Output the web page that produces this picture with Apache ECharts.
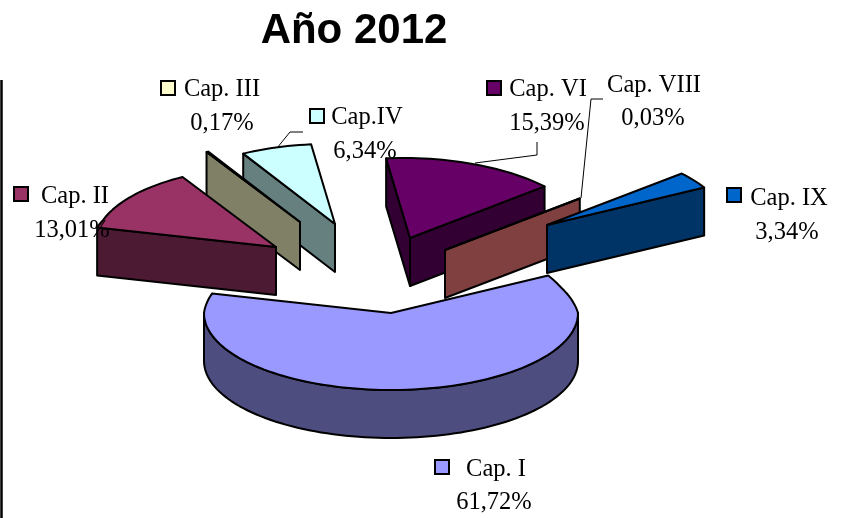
<!DOCTYPE html>
<html>
<head>
<meta charset="utf-8">
<style>
  html, body { margin: 0; padding: 0; background: #fff; }
  #chart { width: 848px; height: 518px; }
</style>
<script src="https://cdn.jsdelivr.net/npm/echarts@6/dist/echarts.min.js"></script>
</head>
<body>
<div id="chart"></div>
<script>
const titleText = 'Año 2012';
const capNames = ['Cap. I', 'Cap. II', 'Cap. III', 'Cap.IV', 'Cap. VI', 'Cap. VIII', 'Cap. IX'];
const capValues = [61.72, 13.01, 0.17, 6.34, 15.39, 0.03, 3.34];

// painter's order, back slices first
const drawOrder = [3, 2, 1, 4, 5, 6, 0];

const topColors = ['#9999ff', '#993366', '#ffffcc', '#ccffff', '#660066', '#ff8080', '#0066cc'];
const wallColors = ['#4d4d80', '#4d1a33', '#808066', '#668080', '#330033', '#804040', '#003366'];

// pie geometry
const startAngle = 62;
const rx = 187, ryBack = 80, ryFront = 77, depth = 48;
const skew = -0.08; // the original's perspective leans the far side to the left
const backShrink = 0.03; // and makes it a little narrower
const cx = 380, cy = 275;
// how far each slice is pulled out of the pie
const pull = [[11, 38], [-104, -28], [-80, -53], [-45, -51], [30, -37], [65, -25], [167, -50]];

// label layout: x centre of text, y of first and second line, legend key x/y
const labelLayout = [
    { nameX: 496, nameY: 470, valX: 494, valY: 503, key: [435, 460] },
    { nameX: 75, nameY: 197, valX: 72, valY: 231, key: [14, 187] },
    { nameX: 222, nameY: 90, valX: 222, valY: 124, key: [161, 81] },
    { nameX: 367, nameY: 118, valX: 365, valY: 152, key: [310, 109] },
    { nameX: 548, nameY: 90, valX: 547, valY: 124, key: [487, 81] },
    { nameX: 654, nameY: 86, valX: 653, valY: 119, key: null },
    { nameX: 789, nameY: 199, valX: 787, valY: 233, key: [727, 188] }
];

const total = capValues.reduce((a, b) => a + b, 0);
let acc = startAngle;
const sliceAngles = capValues.map(v => {
    const a = acc;
    acc += v / total * 360;
    return [a, acc];
});

function rim(ox, oy, deg) {
    const t = deg * Math.PI / 180;
    const c = Math.cos(t);
    if (c > 0) {
        const h = c * ryBack;
        return [ox + rx * (1 - backShrink * Math.min(1, c * 3)) * Math.sin(t) + skew * h, oy - h];
    }
    return [ox + rx * Math.sin(t), oy - c * ryFront];
}

function arcPoints(ox, oy, a, b) {
    const pts = [];
    const n = Math.max(1, Math.ceil((b - a) / 2));
    for (let i = 0; i <= n; i++) {
        pts.push(rim(ox, oy, a + (b - a) * i / n));
    }
    return pts;
}

function poly(points, fill) {
    return {
        type: 'polygon',
        shape: { points: points },
        style: { fill: fill, stroke: '#000', lineWidth: 2, lineJoin: 'round' }
    };
}

function renderSlice(params, api) {
    const idx = api.value(0);
    const a = sliceAngles[idx][0], b = sliceAngles[idx][1];
    const ox = cx + pull[idx][0], oy = cy + pull[idx][1];
    const children = [];

    const wall = (deg) => {
        const p = rim(ox, oy, deg);
        children.push(poly([[ox, oy], p, [p[0], p[1] + depth], [ox, oy + depth]], wallColors[idx]));
    };
    // side walls only where they face the viewer
    if (Math.sin(a * Math.PI / 180) < 0) wall(a);
    if (Math.sin(b * Math.PI / 180) > 0) wall(b);

    // front rim, only the part between 90 and 270 degrees
    const fa = Math.max(a, 90), fb = Math.min(b, 270);
    if (fb > fa) {
        const front = arcPoints(ox, oy, fa, fb);
        const lower = front.map(p => [p[0], p[1] + depth]).reverse();
        children.push(poly(front.concat(lower), wallColors[idx]));
    }

    children.push(poly([[ox, oy]].concat(arcPoints(ox, oy, a, b)), topColors[idx]));
    return { type: 'group', children: children };
}

const serif = '"Liberation Serif", "Times New Roman", serif';

function textEl(text, x, y) {
    return {
        type: 'text',
        z: 10,
        x: x,
        y: y,
        style: { text: text, font: '24.5px ' + serif, fill: '#000', align: 'center', verticalAlign: 'middle' }
    };
}

function leader(points) {
    return {
        type: 'polyline',
        z: 9,
        shape: { points: points },
        style: { stroke: '#000', lineWidth: 1, fill: null }
    };
}

const graphics = [
    {
        type: 'text',
        x: 354,
        y: 31,
        style: { text: titleText, font: 'bold 42px "Liberation Sans", Arial, sans-serif', fill: '#000', align: 'center', verticalAlign: 'middle' }
    },
    { type: 'line', shape: { x1: 1.5, y1: 80, x2: 1.5, y2: 518 }, style: { stroke: '#000', lineWidth: 2.5 } },
    leader([[277, 148], [290, 132], [303, 132]]),
    leader([[475, 163], [537, 155], [537, 142]]),
    leader([[581, 198], [591, 99], [603, 99]])
];

capNames.forEach((name, i) => {
    const l = labelLayout[i];
    graphics.push(textEl(name, l.nameX, l.nameY));
    graphics.push(textEl(capValues[i].toFixed(2).replace('.', ',') + '%', l.valX, l.valY));
    if (l.key) {
        graphics.push({
            type: 'rect',
            z: 10,
            shape: { x: l.key[0], y: l.key[1], width: 14, height: 14 },
            style: { fill: topColors[i], stroke: '#000', lineWidth: 2 }
        });
    }
});

const chart = echarts.init(document.querySelector('#chart'));
chart.setOption({
    animation: false,
    backgroundColor: '#fff',
    graphic: { elements: graphics },
    series: [{
        type: 'custom',
        coordinateSystem: 'none',
        renderItem: renderSlice,
        silent: true,
        data: drawOrder.map(i => [i, capValues[i]])
    }]
});
</script>
</body>
</html>
